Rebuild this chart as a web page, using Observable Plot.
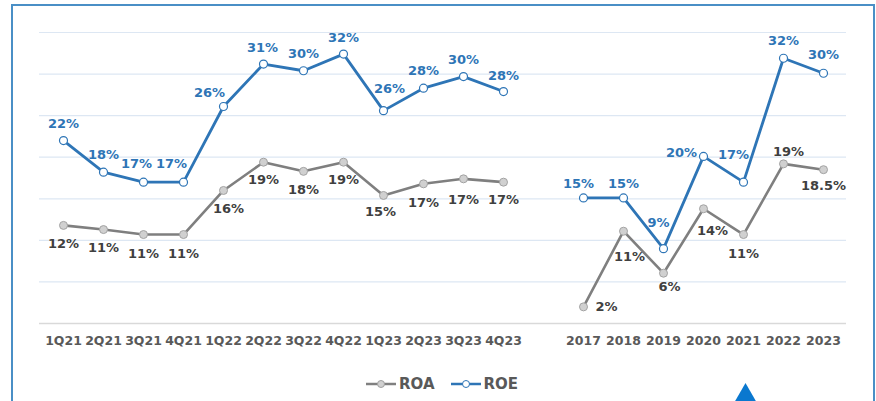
<!DOCTYPE html>
<html>
<head>
<meta charset="utf-8">
<script src="https://cdn.jsdelivr.net/npm/d3@7"></script>
<script src="https://cdn.jsdelivr.net/npm/@observablehq/plot@0.6"></script>
<style>
  html, body { margin: 0; padding: 0; background: #fff; }
  #wrap { position: relative; width: 876px; height: 401px; overflow: hidden; font-family: "DejaVu Sans", sans-serif; }
  #frame { position: absolute; left: 11px; top: 4px; width: 860px; height: 430px; border: 2px solid #4a8fc6; box-sizing: content-box; }
  #chart { position: absolute; left: 0; top: 0; }
  #legend { position: absolute; left: 366px; top: 375px; display: flex; align-items: center; font-weight: bold; font-size: 15px; color: #595959; }
  #legend .item { display: flex; align-items: center; margin-right: 16px; }
  #legend svg { margin-right: 3px; }
  #tri { position: absolute; left: 734px; top: 383px; width: 23px; height: 20px; background: #0a78cf; clip-path: polygon(50% 0, 100% 100%, 0 100%); }
</style>
</head>
<body>
<div id="wrap">
  <div id="frame"></div>
  <div id="chart"></div>
  <div id="legend">
    <div class="item"><svg width="30" height="10"><line x1="0" y1="5" x2="30" y2="5" stroke="#808080" stroke-width="2.5"/><circle cx="15" cy="5" r="3.5" fill="#d0d0d0" stroke="#a0a0a0"/></svg>ROA</div>
    <div class="item"><svg width="30" height="10"><line x1="0" y1="5" x2="30" y2="5" stroke="#2e75b6" stroke-width="2.5"/><circle cx="15" cy="5" r="3.5" fill="#fff" stroke="#2e75b6"/></svg>ROE</div>
  </div>
  <div id="tri"></div>
</div>
<script>
// ---- data ----
const quarters = ["1Q21","2Q21","3Q21","4Q21","1Q22","2Q22","3Q22","4Q22","1Q23","2Q23","3Q23","4Q23"];
const years = ["2017","2018","2019","2020","2021","2022","2023"];
const roeQuarterly = [22.0, 18.2, 17.0, 17.0, 26.1, 31.2, 30.4, 32.4, 25.6, 28.3, 29.7, 27.9];
const roaQuarterly = [11.8, 11.3, 10.7, 10.7, 16.0, 19.4, 18.3, 19.4, 15.4, 16.8, 17.4, 17.0];
const roeAnnual = [15.1, 15.1, 9.0, 20.1, 17.0, 31.9, 30.1];
const roaAnnual = [2.0, 11.1, 6.05, 13.8, 10.7, 19.2, 18.5];
const roeQuarterlyLabels = ["22%","18%","17%","17%","26%","31%","30%","32%","26%","28%","30%","28%"];
const roaQuarterlyLabels = ["12%","11%","11%","11%","16%","19%","18%","19%","15%","17%","17%","17%"];
const roeAnnualLabels = ["15%","15%","9%","20%","17%","32%","30%"];
const roaAnnualLabels = ["2%","11%","6%","14%","11%","19%","18.5%"];
const yTicks = [0, 5, 10, 15, 20, 25, 30, 35];

// ---- label layout (offsets from the point, in px) ----
const roeOffsetsQ = [[0,-17],[0,-17],[-7,-18],[-12,-18],[-14,-14],[-1,-16],[0,-17],[0,-16],[6,-22],[0,-17],[0,-17],[0,-16]];
const roaOffsetsQ = [[0,18],[0,18],[0,19],[0,19],[5,18],[0,18],[0,18],[0,18],[-3,16],[0,19],[0,21],[0,18]];
const roeOffsetsA = [[-5,-14],[0,-14],[-5,-26],[-22,-4],[-10,-27],[0,-17],[0,-18]];
const roaOffsetsA = [[23,0],[6,26],[6,14],[9,22],[0,19],[5,-12],[0,16]];

const GAP = " ";
const domain = [...quarters, GAP, ...years];

function rows(keys, vals, labels, offs, series, period) {
  return keys.map((k, i) => ({key: k, value: vals[i], label: labels[i], off: offs[i], series, period}));
}
const roeRows = [...rows(quarters, roeQuarterly, roeQuarterlyLabels, roeOffsetsQ, "ROE", "q"), ...rows(years, roeAnnual, roeAnnualLabels, roeOffsetsA, "ROE", "a")];
const roaRows = [...rows(quarters, roaQuarterly, roaQuarterlyLabels, roaOffsetsQ, "ROA", "q"), ...rows(years, roaAnnual, roaAnnualLabels, roaOffsetsA, "ROA", "a")];

const BLUE = "#2e75b6", GRAY = "#7f7f7f";

const labelMarks = [];
for (const d of roeRows) labelMarks.push(Plot.text([d], {x: "key", y: "value", text: "label", dx: d.off[0], dy: d.off[1], fill: BLUE, fontWeight: "bold", fontSize: 13}));
for (const d of roaRows) labelMarks.push(Plot.text([d], {x: "key", y: "value", text: "label", dx: d.off[0], dy: d.off[1], fill: "#404040", fontWeight: "bold", fontSize: 13}));

const chart = Plot.plot({
  width: 876,
  height: 360,
  marginTop: 32,
  marginBottom: 37,
  marginLeft: 39,
  marginRight: 30,
  style: {fontFamily: "DejaVu Sans, sans-serif", fontSize: "13px", background: "transparent", overflow: "visible"},
  x: {type: "point", domain, padding: 0.5, align: 0.5, axis: null},
  y: {domain: [0, 35], axis: null},
  marks: [
    Plot.ruleY(yTicks.filter(t => t > 0), {stroke: "#dde7f3", strokeWidth: 1.2}),
    Plot.ruleY([0], {stroke: "#d9d9d9", strokeWidth: 1.6}),
    Plot.line(roaRows, {x: "key", y: "value", z: "period", stroke: GRAY, strokeWidth: 2.6}),
    Plot.line(roeRows, {x: "key", y: "value", z: "period", stroke: BLUE, strokeWidth: 2.8}),
    Plot.dot(roaRows, {x: "key", y: "value", r: 4, fill: "#d0d0d0", stroke: "#a3a3a3", strokeWidth: 1}),
    Plot.dot(roeRows, {x: "key", y: "value", r: 4, fill: "#ffffff", stroke: BLUE, strokeWidth: 1.2}),
    ...labelMarks,
    Plot.text(domain.filter(k => k !== GAP), {x: d => d, text: d => d, frameAnchor: "bottom", dy: 17, lineAnchor: "middle", fill: "#595959", fontWeight: "bold", fontSize: 12.5})
  ]
});
document.getElementById("chart").appendChild(chart);
</script>
</body>
</html>
